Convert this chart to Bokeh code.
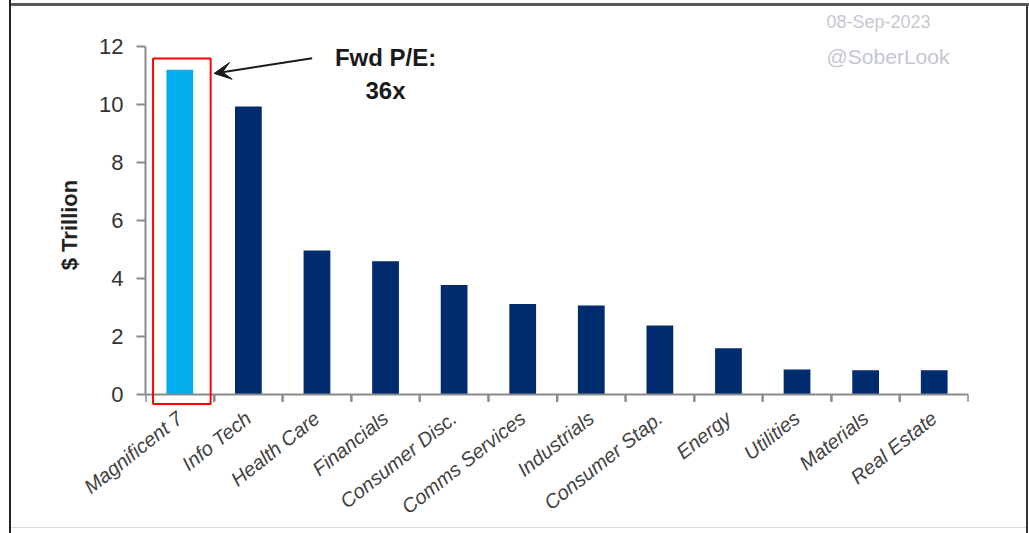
from bokeh.plotting import figure
from bokeh.models import (ColumnDataSource, FactorRange, Range1d, FixedTicker, LinearAxis,
                          CategoricalAxis, Arrow, VeeHead, Label, BoxAnnotation, Title)
from bokeh.embed import file_html
from bokeh.resources import INLINE

# Market capitalisation by S&P 500 sector, $ trillion
sectors = ["Magnificent 7", "Info Tech", "Health Care", "Financials", "Consumer Disc.",
           "Comms Services", "Industrials", "Consumer Stap.", "Energy", "Utilities",
           "Materials", "Real Estate"]
market_cap = [11.2, 9.93, 4.97, 4.6, 3.78, 3.13, 3.08, 2.39, 1.61, 0.87, 0.85, 0.85]
highlight = "Magnificent 7"
y_ticks = [0, 2, 4, 6, 8, 10, 12]
y_title = "$ Trillion"
pe_note = "Fwd P/E:\n36x"
source_tag = "@SoberLook"
date_tag = "08-Sep-2023"

LIGHT_BLUE = "#03AEEE"
NAVY = "#002B6E"
AXIS_GREY = "#8a8a8a"
FONT = "Liberation Sans"

colors = [LIGHT_BLUE if s == highlight else NAVY for s in sectors]
src = ColumnDataSource(dict(sector=sectors, value=market_cap, color=colors))

# frame: a little head room over 12 for the callout, a little below zero for the box
Y_LO, Y_HI = -0.4, 12.1
TOP, BOTTOM = 43, 127
PX = (Y_HI - Y_LO) / (533 - TOP - BOTTOM)     # data units per pixel, vertically

p = figure(width=1029, height=533,
           x_range=FactorRange(factors=sectors, range_padding=0),
           y_range=Range1d(Y_LO, Y_HI),
           output_backend="svg", toolbar_location=None,
           x_axis_location=None,
           min_border_left=145, min_border_right=61,
           min_border_top=TOP, min_border_bottom=BOTTOM)
p.outline_line_color = None
p.background_fill_alpha = 0
p.border_fill_alpha = 0
p.grid.visible = False

# page frame drawn around the whole chart
p.styles = {
    "background-color": "white",
    "box-shadow": ("inset 9px 0 0 white, inset 11px 0 0 #222222, "
                   "inset 0 3px 0 white, inset 0 6px 0 #5a5a5a, "
                   "inset -1px 0 0 white, inset -3px 0 0 #333333, "
                   "inset 0 -5px 0 white, inset 0 -6px 0 #dcdcdc"),
}

# date stamp at the very top of the page
p.add_layout(Title(text=date_tag, align="left", offset=681, vertical_align="top",
                   standoff=20, text_font=FONT, text_font_size="18px",
                   text_font_style="normal", text_color="#c6c8d2"), "above")

p.vbar(x="sector", top="value", width=0.39, fill_color="color", line_color=None, source=src)

# y axis, drawn from 0 to 12 only
yax = p.yaxis[0]
yax.ticker = FixedTicker(ticks=y_ticks)
yax.bounds = (y_ticks[0], y_ticks[-1])
yax.axis_line_color = AXIS_GREY
yax.axis_line_width = 2
yax.major_tick_line_color = AXIS_GREY
yax.major_tick_line_width = 2
yax.major_tick_in = 0
yax.major_tick_out = 9
yax.minor_tick_line_color = None
yax.major_label_text_font = FONT
yax.major_label_text_font_size = "22px"
yax.major_label_text_color = "#333333"
yax.major_label_standoff = 13
yax.axis_label = y_title
yax.axis_label_text_font = FONT
yax.axis_label_text_font_size = "22px"
yax.axis_label_text_font_style = "bold"
yax.axis_label_text_color = "#222222"
yax.axis_label_standoff = 14

# x axis line at zero with ticks between categories
edges = list(range(len(sectors) + 1))
tick_axis = LinearAxis(ticker=FixedTicker(ticks=edges), fixed_location=0,
                       axis_line_color=AXIS_GREY, axis_line_width=2,
                       major_tick_line_color=AXIS_GREY, major_tick_line_width=2,
                       major_tick_in=0, major_tick_out=7,
                       minor_tick_line_color=None,
                       major_label_overrides={e: "" for e in edges},
                       major_label_standoff=0)
p.add_layout(tick_axis, "below")
p.segment(x0=edges, x1=edges, y0=[0] * len(edges), y1=[-7 * PX] * len(edges),
          line_color=AXIS_GREY, line_width=2)

# category names
cat_axis = CategoricalAxis(axis_line_color=None, major_tick_line_color=None,
                           major_tick_in=0, major_tick_out=0,
                           major_label_orientation=0.67,
                           major_label_text_font=FONT,
                           major_label_text_font_size="20px",
                           major_label_text_font_style="italic",
                           major_label_text_color="#424242",
                           major_label_standoff=9)
p.add_layout(cat_axis, "below")

# highlight box and valuation callout
hi = sectors.index(highlight)
p.add_layout(BoxAnnotation(left=hi + 0.11, right=hi + 0.95,
                           top=market_cap[hi] + 0.38, bottom=-0.31,
                           fill_alpha=0, line_color="#FF0000", line_alpha=1, line_width=2))
p.add_layout(Arrow(end=VeeHead(size=17, fill_color="#1a1a1a", line_color="#1a1a1a"),
                   x_start=hi + 2.43, y_start=market_cap[hi] + 0.39,
                   x_end=hi + 1.0, y_end=market_cap[hi] - 0.13,
                   line_color="#1a1a1a", line_width=2))
p.add_layout(Label(x=hi + 3.5, y=12.07, text=pe_note, text_align="center",
                   text_baseline="top", text_font=FONT, text_font_size="24px",
                   text_font_style="bold", text_color="#1a1a1a"))

# watermark
p.add_layout(Label(x=9.93, y=11.66, text=source_tag, text_align="left",
                   text_baseline="middle", text_font=FONT, text_font_size="21px",
                   text_color="#c3c6d2"))

open("out.html", "w").write(file_html(p, INLINE))
